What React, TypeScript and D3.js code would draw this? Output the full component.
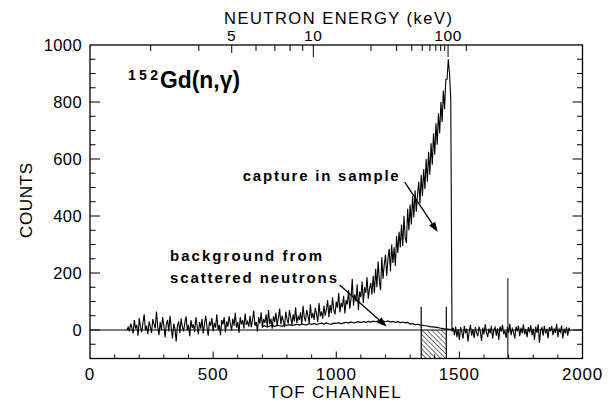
import React from 'react';
import * as d3 from 'd3';

// ---- data ----
const captureStart = 150;
const captureStep = 5;
const captureCounts = [
  // 150-245
  0, 10, -5, 22, 8, -12, 35, 5, 18, -20, 42, 10, -8, 25, 55, 0, 15, -15, 30, 12,
  // 250-345
  -10, 38, 20, 5, 65, 10, -18, 28, 0, 45, 15, -25, 20, 35, -5, 50, 8, -30, 22, 5,
  // 350-445
  -40, 15, 30, -10, 40, 12, -5, 25, 48, 0, 18, -22, 35, 8, 20, -8, 45, 15, -15, 28,
  // 450-545
  5, 38, -12, 22, 50, 10, -20, 30, 15, 42, -5, 25, 8, 55, 0, 18, -18, 35, 20, 45,
  // 550-645
  -8, 30, 12, 48, 22, -2, 40, 15, 60, 8, 28, -10, 45, 20, 35, 5, 58, 18, 30, 12,
  // 650-745
  50, 10, 35, 68, 15, 28, -5, 45, 22, 62, 8, 38, 25, 55, 12, 70, 20, 40, 5, 48,
  // 750-845
  28, 60, 15, 42, 75, 20, 50, 32, 10, 65, 38, 22, 70, 45, 18, 55, 30, 80, 25, 48,
  // 850-945
  35, 62, 20, 85, 45, 30, 70, 50, 25, 90, 42, 60, 35, 78, 55, 28, 95, 48, 65, 40,
  // 950-1045
  85, 50, 72, 105, 45, 88, 60, 115, 70, 55, 100, 78, 130, 62, 95, 80, 120, 58, 105, 90,
  // 1050-1145
  140, 75, 110, 180, 85, 125, 100, 160, 70, 135, 115, 170, 95, 150, 130, 185, 110, 145, 165, 125,
  // 1150-1245
  190, 130, 215, 150, 240, 175, 140, 255, 180, 230, 265, 190, 250, 285, 205, 300, 235, 290, 225, 330,
  // 1250-1345
  270, 345, 290, 370, 295, 400, 325, 305, 425, 350, 440, 370, 470, 395, 490, 415, 475, 520, 445, 545,
  // 1350-1445
  470, 565, 495, 600, 520, 625, 545, 655, 580, 690, 615, 725, 650, 760, 690, 800, 730, 840, 775, 880,
  // 1450-1465
  880, 950, 900, 810,
  // 1470
  -5,
  // 1475-1570
  8, -18, 12, -25, 3, -35, 10, -8, -30, 15, -12, 5, -40, -5, 18, -20, 2, -28, 10, -10,
  // 1575-1670
  -22, 12, -5, -38, 8, -15, 20, -8, -25, 5, -12, 15, -30, 0, 10, -20, 6, -35, 12, -6,
  // 1675-1770
  18, -15, -2, -28, 10, -10, 22, -18, 5, -8, -30, 12, -5, 15, -22, 8, -12, 20, -15, 3,
  // 1775-1870
  -25, 10, -8, 16, -18, 5, -35, 12, -10, 20, -45, 0, 8, -20, 15, -12, 4, -30, 10, -5,
  // 1875-1950
  14, -18, 6, -10, 22, -25, 3, -8, 15, -30, 5, -12, 10, -20, 8, -5,
];

const backgroundStart = 700;
const backgroundStep = 10;
const backgroundCounts = [
  12, 15, 10, 14, 16, 12, 17, 15, 13, 18,
  16, 19, 15, 18, 20, 17, 21, 19, 18, 22,
  20, 23, 19, 22, 24, 21, 25, 22, 20, 24,
  23, 26, 22, 25, 27, 24, 28, 25, 27, 29,
  26, 29, 27, 30, 28, 31, 29, 32, 30, 31,
  29, 32, 28, 30, 27, 29, 26, 28, 25, 27,
  21, 22, 19, 20, 17, 16, 15, 14, 12, 11,
  10, 9, 7, 6, 4, 3, 2, 1,
];

const markerChannels = [1345, 1447];
const markerTops = [82, 82];
const flashChannels = [1697];
const flashTops = [182];
const shadedFrom = 1345;
const shadedTo = 1447;

const xLabels = [0, 500, 1000, 1500, 2000];
const yLabels = [0, 200, 400, 600, 800, 1000];
const energyTicks = [3, 4, 5, 6, 7, 8, 9, 10, 20, 30, 40, 50, 60, 70, 80, 90, 100, 200];
const energyLabels = [5, 10, 100];
const energyMajor = [10, 100];

const FONT = "'Liberation Sans', Arial, Helvetica, sans-serif";

export default function App() {
  const X0 = 90, X1 = 582.5, Y0 = 45, Y1 = 358.5;
  const x = d3.scaleLinear().domain([0, 2000]).range([X0, X1]);
  const y = d3.scaleLinear().domain([-100, 1000]).range([Y1, Y0]);
  // E = (2530 / (1707 - ch))^2  ->  channel linear in E^-1/2
  const energyToChannel = (e: number) => 1707 - 2530 / Math.sqrt(e);
  const xE = d3.scalePow().exponent(-0.5).domain([10, 100])
    .range([x(energyToChannel(10)), x(energyToChannel(100))]);

  const capLine = d3.line<number>()
    .x((_, i) => x(captureStart + i * captureStep))
    .y((d) => y(d));
  const bgLine = d3.line<number>()
    .x((_, i) => x(backgroundStart + i * backgroundStep))
    .y((d) => y(d));

  const yTicks = d3.range(-50, 1000, 50);
  const xTicks = d3.range(100, 2000, 100);

  const arrow = (c0: number, v0: number, c1: number, v1: number, key: string) => {
    const p0 = [x(c0), y(v0)], p1 = [x(c1), y(v1)];
    const dx = p1[0] - p0[0], dy = p1[1] - p0[1];
    const L = Math.hypot(dx, dy);
    const ux = dx / L, uy = dy / L, nx = -uy, ny = ux;
    const hl = 10, hw = 3.6;
    const bx = p1[0] - hl * ux, by = p1[1] - hl * uy;
    return (
      <g key={key}>
        <line x1={p0[0]} y1={p0[1]} x2={bx} y2={by} stroke="#000" strokeWidth={1.3} />
        <polygon points={`${p1[0]},${p1[1]} ${bx + hw * nx},${by + hw * ny} ${bx - hw * nx},${by - hw * ny}`} fill="#000" />
      </g>
    );
  };

  return (
    <svg width={613} height={404} style={{ position: 'absolute', left: 0, top: 0, background: '#fff' }}
      fontFamily={FONT}>
      <defs>
        <pattern id="hatch" patternUnits="userSpaceOnUse" width={3.4} height={3.4} patternTransform="rotate(-45)">
          <line x1={0} y1={0} x2={0} y2={3.4} stroke="#000" strokeWidth={1.1} />
        </pattern>
      </defs>

      {/* hatched region */}
      <rect x={x(shadedFrom)} y={y(0)} width={x(shadedTo) - x(shadedFrom)} height={y(-100) - y(0)} fill="url(#hatch)" />

      {/* zero line */}
      <line x1={X0} x2={X1} y1={y(0)} y2={y(0)} stroke="#000" strokeWidth={1.2} />

      {/* background and capture spectra */}
      <path d={bgLine(backgroundCounts) || ''} fill="none" stroke="#000" strokeWidth={1.2} />
      <path d={capLine(captureCounts) || ''} fill="none" stroke="#000" strokeWidth={1.1} />

      {/* vertical markers */}
      {markerChannels.map((c, i) => (
        <line key={'m' + i} x1={x(c)} x2={x(c)} y1={y(-100)} y2={y(markerTops[i])} stroke="#000" strokeWidth={1.2} />
      ))}
      {flashChannels.map((c, i) => (
        <line key={'f' + i} x1={x(c)} x2={x(c)} y1={y(-100)} y2={y(flashTops[i])} stroke="#000" strokeWidth={1} />
      ))}

      {/* frame */}
      <rect x={X0} y={Y0} width={X1 - X0} height={Y1 - Y0} fill="none" stroke="#000" strokeWidth={1.3} />

      {/* left / right ticks */}
      {yTicks.map((v) => {
        const major = v % 200 === 0;
        const len = major ? 10 : 5.5;
        return (
          <g key={'yt' + v}>
            <line x1={X0} x2={X0 + len} y1={y(v)} y2={y(v)} stroke="#000" strokeWidth={1} />
            <line x1={X1} x2={X1 - len} y1={y(v)} y2={y(v)} stroke="#000" strokeWidth={1} />
          </g>
        );
      })}
      {/* bottom ticks */}
      {xTicks.map((v) => {
        const major = v % 500 === 0;
        const len = major ? 7 : 4;
        return <line key={'xt' + v} x1={x(v)} x2={x(v)} y1={Y1} y2={Y1 - len} stroke="#000" strokeWidth={1} />;
      })}
      {/* top energy ticks */}
      {energyTicks.map((e) => {
        const len = energyMajor.includes(e) ? 12 : e === 5 ? 8 : 6;
        return <line key={'et' + e} x1={xE(e)} x2={xE(e)} y1={Y0} y2={Y0 + len} stroke="#000" strokeWidth={1} />;
      })}

      {/* tick labels */}
      {yLabels.map((v) => (
        <text key={'yl' + v} x={82} y={y(v) + 5.8} textAnchor="end" fontSize={16.5} letterSpacing={0.4}>{v}</text>
      ))}
      {xLabels.map((v) => (
        <text key={'xl' + v} x={x(v)} y={380} textAnchor="middle" fontSize={17} letterSpacing={0.8}>{v}</text>
      ))}
      {energyLabels.map((e) => (
        <text key={'el' + e} x={xE(e)} y={40.5} textAnchor="middle" fontSize={15.5} letterSpacing={0.6}>{e}</text>
      ))}

      {/* axis titles */}
      <text x={224} y={23.5} fontSize={16.5} textLength={228} lengthAdjust="spacing">NEUTRON ENERGY (keV)</text>
      <text x={268.6} y={398} fontSize={17} textLength={132} lengthAdjust="spacing">TOF CHANNEL</text>
      <text transform="translate(31.5,200.5) rotate(-90)" textAnchor="middle" fontSize={17} textLength={75} lengthAdjust="spacing">COUNTS</text>

      {/* annotations */}
      <text x={128} y={80} fontSize={14} fontWeight="bold" textLength={30} lengthAdjust="spacing">152</text>
      <text x={160} y={88} fontSize={24.5} fontWeight="bold" textLength={80} lengthAdjust="spacingAndGlyphs">Gd(n,γ)</text>
      <text x={242.7} y={180.7} fontSize={15} fontWeight="bold" textLength={156} lengthAdjust="spacing">capture in sample</text>
      <text x={170} y={261} fontSize={15} fontWeight="bold" textLength={152} lengthAdjust="spacing">background from</text>
      <text x={170} y={283} fontSize={15} fontWeight="bold" textLength={167} lengthAdjust="spacing">scattered  neutrons</text>

      {arrow(1278, 519, 1412, 344, 'a1')}
      {arrow(1014, 158, 1205, 12, 'a2')}
    </svg>
  );
}
